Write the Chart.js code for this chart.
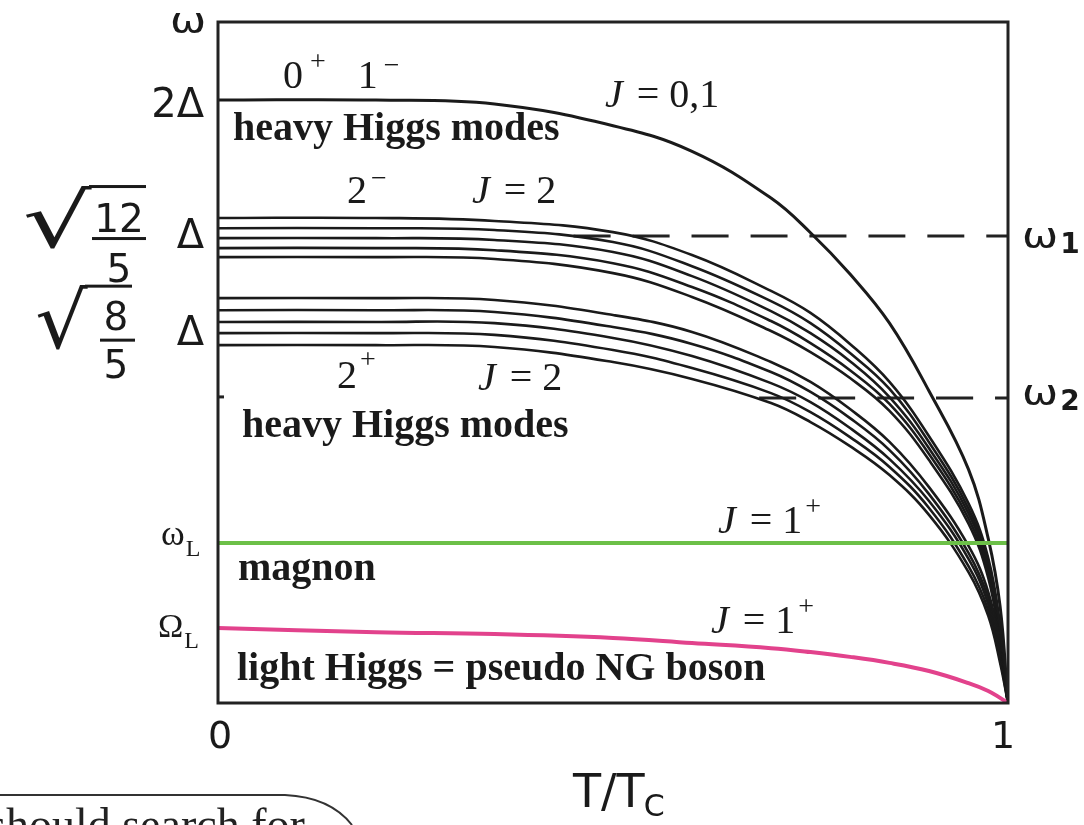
<!DOCTYPE html>
<html>
<head>
<meta charset="utf-8">
<script src="https://cdn.jsdelivr.net/npm/chart.js@4.4.1/dist/chart.umd.min.js"></script>
<style>
  html, body { margin: 0; padding: 0; background: #fff; }
  #wrap { width: 1084px; height: 825px; }
</style>
</head>
<body>
<div id="wrap"><canvas id="grafico" width="1084" height="825"></canvas></div>
<script>
// === Dados: T/Tc no eixo x, energias em unidades de Δ ===
const temps = [0, 0.2, 0.35, 0.5, 0.6, 0.7, 0.75, 0.8, 0.85, 0.9, 0.95, 0.975, 0.99, 1];

// J = 0,1 (parte de 2Δ)
const modoJ01 = [2.000, 2.000, 1.987, 1.915, 1.830, 1.675, 1.560, 1.423, 1.260, 1.035, 0.775, 0.545, 0.320, 0];

// J = 2, ramo 2⁻ (em torno de √(12/5) Δ)
const menos1 = [1.609, 1.609, 1.599, 1.562, 1.486, 1.367, 1.294, 1.191, 1.065, 0.885, 0.662, 0.481, 0.259, 0];
const menos2 = [1.575, 1.575, 1.569, 1.529, 1.449, 1.333, 1.260, 1.161, 1.042, 0.865, 0.645, 0.464, 0.245, 0];
const menos3 = [1.542, 1.542, 1.536, 1.496, 1.416, 1.300, 1.227, 1.134, 1.015, 0.845, 0.629, 0.448, 0.232, 0];
const menos4 = [1.509, 1.509, 1.502, 1.459, 1.380, 1.267, 1.194, 1.104, 0.992, 0.826, 0.612, 0.431, 0.219, 0];
const menos5 = [1.479, 1.479, 1.473, 1.426, 1.347, 1.234, 1.164, 1.078, 0.969, 0.806, 0.595, 0.415, 0.202, 0];

// J = 2, ramo 2⁺ (em torno de √(8/5) Δ)
const mais1 = [1.343, 1.343, 1.337, 1.287, 1.231, 1.131, 1.065, 0.975, 0.866, 0.716, 0.521, 0.368, 0.189, 0];
const mais2 = [1.303, 1.303, 1.297, 1.247, 1.191, 1.098, 1.032, 0.945, 0.839, 0.693, 0.498, 0.348, 0.176, 0];
const mais3 = [1.264, 1.264, 1.260, 1.211, 1.151, 1.061, 0.998, 0.912, 0.809, 0.670, 0.478, 0.328, 0.163, 0];
const mais4 = [1.227, 1.227, 1.221, 1.171, 1.111, 1.028, 0.965, 0.882, 0.783, 0.647, 0.454, 0.308, 0.146, 0];
const mais5 = [1.187, 1.187, 1.181, 1.131, 1.075, 0.995, 0.932, 0.852, 0.756, 0.624, 0.434, 0.289, 0.133, 0];

// Higgs leve = pseudo bóson NG (J = 1⁺)
const higgsLeve = [0.249, 0.235, 0.229, 0.216, 0.199, 0.182, 0.169, 0.153, 0.133, 0.106, 0.066, 0.040, 0.017, 0];

// mágnon (J = 1⁺), constante
const magnonT = [0, 1];
const magnon = [0.531, 0.531];

// níveis tracejados ω1 e ω2
const omega1T = [0.45, 1];
const omega1 = [1.549, 1.549];
const omega2T = [0.685, 1];
const omega2 = [1.012, 1.012];

// níveis marcados no eixo vertical
const nivel2D = 2;
const nivel12 = 1.549;
const nivel8 = 1.265;
const nivelOmegaL = 0.531;
const nivelBigOmegaL = 0.249;
const yMax = 2.259;

// === Montagem dos datasets ===
const pontos = (xs, ys) => xs.map((x, i) => ({ x, y: ys[i] }));
const PRETO = "#1a1a1a";

function linha(xs, ys, cor, largura, extra) {
  return Object.assign({
    data: pontos(xs, ys),
    borderColor: cor,
    borderWidth: largura,
    pointRadius: 0,
    fill: false,
    tension: 0.4,
  }, extra || {});
}

// o primeiro dataset fica por cima
const datasets = [
  linha(magnonT, magnon, "rgb(108,192,72)", 4),
  linha(temps, higgsLeve, "rgb(226,66,140)", 4),
  linha(temps, modoJ01, PRETO, 3),
  ...[menos1, menos2, menos3, menos4, menos5].map(d => linha(temps, d, PRETO, 2.6)),
  ...[mais1, mais2, mais3, mais4, mais5].map(d => linha(temps, d, PRETO, 2.6)),
  linha(omega1T, omega1, "#222", 3, { borderDash: [37, 22] }),
  linha(omega2T, omega2, "#222", 3, { borderDash: [37, 22] }),
];

// === Fontes ===
const SERIF = '"Liberation Serif", "DejaVu Serif", serif';
const SANS = '"DejaVu Sans", "Liberation Sans", sans-serif';
const S40 = "40px " + SERIF;
const S28 = "28px " + SERIF;
const I40 = "italic 40px " + SERIF;
const B40 = "bold 40px " + SERIF;

// escreve pedaços de texto em sequência: [texto, fonte, dx, dy]
function escreve(ctx, partes, x, y) {
  for (const [t, f, dx = 0, dy = 0] of partes) {
    ctx.font = f;
    ctx.fillText(t, x + dx, y + dy);
    x += dx + ctx.measureText(t).width;
  }
  return x;
}

// ω sem serifa um pouco mais largo, como nos rótulos dos eixos
function omegaLargo(ctx, x, y, tam) {
  ctx.save();
  ctx.font = tam + "px " + SANS;
  ctx.translate(x, y);
  ctx.scale(1.2, 1);
  ctx.fillText("ω", 0, 0);
  const w = ctx.measureText("ω").width * 1.2;
  ctx.restore();
  return x + w;
}

// sinal de raiz com o glifo √ esticado até a caixa dada, e a barra por cima
function raiz(ctx, x0, y0, x1, y1, xBarra) {
  ctx.save();
  ctx.font = '100px "DejaVu Sans"';
  const m = ctx.measureText("√");
  const w = m.actualBoundingBoxLeft + m.actualBoundingBoxRight;
  const h = m.actualBoundingBoxAscent + m.actualBoundingBoxDescent;
  ctx.translate(x0, y0);
  ctx.scale((x1 - x0) / w, (y1 - y0) / h);
  ctx.fillText("√", m.actualBoundingBoxLeft, m.actualBoundingBoxAscent);
  ctx.restore();
  ctx.fillRect(x1 - 3, y0, xBarra - x1 + 3, 3);
}

function fracao(ctx, num, den, xc, yNum, yBarra, yDen, x0, x1) {
  ctx.save();
  ctx.textAlign = "center";
  ctx.font = "39px " + SANS;
  ctx.fillText(num, xc, yNum);
  ctx.fillText(den, xc, yDen);
  ctx.fillRect(x0, yBarra, x1 - x0, 3);
  ctx.restore();
}

// === Plugin: moldura, rótulos dos eixos e anotações ===
const rotulos = {
  id: "rotulos",
  afterDatasetsDraw(chart) {
    const ctx = chart.ctx;
    const a = chart.chartArea;
    const xs = chart.scales.x;
    const ys = chart.scales.y;
    const py = v => ys.getPixelForValue(v);
    ctx.save();
    ctx.fillStyle = PRETO;
    ctx.strokeStyle = "#222";
    ctx.textBaseline = "alphabetic";
    ctx.textAlign = "left";

    // moldura
    ctx.lineWidth = 3;
    ctx.strokeRect(a.left, a.top, a.right - a.left, a.bottom - a.top);
    // marquinha no eixo esquerdo em ω2
    ctx.beginPath();
    ctx.moveTo(a.left, py(omega2[0]) - 1);
    ctx.lineTo(a.left + 6, py(omega2[0]) - 1);
    ctx.stroke();

    // eixo vertical
    omegaLargo(ctx, 170, a.top + 11, 36);
    ctx.textAlign = "right";
    ctx.font = "40px " + SANS;
    ctx.fillText("2Δ", 204, py(nivel2D) + 17);
    ctx.fillText("Δ", 204, py(nivel12) + 12);
    ctx.fillText("Δ", 204, py(nivel8) + 23);
    ctx.textAlign = "left";

    let p = py(nivel12);
    raiz(ctx, 25, p - 51, 92, p + 13, 146);
    fracao(ctx, "12", "5", 119, p - 4, p + 1, p + 46, 92, 146);
    p = py(nivel8);
    raiz(ctx, 37, p - 37, 88, p + 29, 132);
    fracao(ctx, "8", "5", 116, p + 8, p + 17, p + 56, 100, 135);

    p = py(nivelOmegaL);
    escreve(ctx, [["ω", "36px " + SERIF], ["L", "24px " + SERIF, 1, 11]], 161, p + 2);
    p = py(nivelBigOmegaL);
    escreve(ctx, [["Ω", "34px " + SERIF], ["L", "24px " + SERIF, 1, 11]], 158, p + 9);

    // lado direito
    let x = omegaLargo(ctx, 1022, py(omega1[0]) + 12, 36);
    escreve(ctx, [["1", "bold 28px " + SANS, 2, 5]], x, py(omega1[0]) + 12);
    x = omegaLargo(ctx, 1022, py(omega2[0]) + 7, 36);
    escreve(ctx, [["2", "bold 28px " + SANS, 2, 5]], x, py(omega2[0]) + 7);

    // eixo horizontal
    ctx.textAlign = "center";
    ctx.font = "38px " + SANS;
    ctx.fillText("0", xs.getPixelForValue(0) + 2, 748);
    ctx.fillText("1", xs.getPixelForValue(1) - 5, 748);
    ctx.textAlign = "left";
    escreve(ctx, [["T/T", "46px " + SANS], ["C", "30px " + SANS, -1, 9]], 573, 807);

    // anotações das curvas
    escreve(ctx, [["0", S40], ["+", S28, 7, -18], ["1", S40, 32], ["−", S28, 6, -14]], 283, 88);
    escreve(ctx, [["J", I40], [" = 0,1", S40, 4]], 605, 107);
    ctx.font = B40;
    ctx.fillText("heavy Higgs modes", 233, 140);
    escreve(ctx, [["2", S40], ["−", S28, 4, -16]], 347, 203);
    escreve(ctx, [["J", I40], [" = 2", S40, 4]], 472, 203);
    escreve(ctx, [["2", S40], ["+", S28, 3, -20]], 337, 388);
    escreve(ctx, [["J", I40], [" = 2", S40, 4]], 478, 390);
    ctx.font = B40;
    ctx.fillText("heavy Higgs modes", 242, 437);
    escreve(ctx, [["J", I40], [" = 1", S40, 4], ["+", S28, 3, -18]], 718, 533);
    ctx.font = B40;
    ctx.fillText("magnon", 238, 580);
    escreve(ctx, [["J", I40], [" = 1", S40, 4], ["+", S28, 3, -18]], 711, 633);
    ctx.font = B40;
    ctx.fillText("light Higgs = pseudo NG boson", 237, 680);

    // caixa cortada no canto inferior esquerdo
    ctx.lineWidth = 2;
    ctx.strokeStyle = "#333";
    ctx.beginPath();
    ctx.moveTo(0, 795);
    ctx.lineTo(285, 795);
    ctx.quadraticCurveTo(330, 797, 352, 825);
    ctx.stroke();
    ctx.fillStyle = "#222";
    ctx.font = "46px " + SERIF;
    ctx.fillText("should search for", -12, 840);
    ctx.restore();
  },
};

new Chart(document.getElementById("grafico"), {
  type: "line",
  data: { datasets },
  options: {
    responsive: false,
    animation: false,
    devicePixelRatio: 1,
    layout: { padding: { left: 218, right: 76, top: 22, bottom: 122 } },
    plugins: { legend: { display: false }, tooltip: { enabled: false } },
    scales: {
      x: { type: "linear", display: false, min: 0, max: 1 },
      y: { display: false, min: 0, max: yMax },
    },
  },
  plugins: [rotulos],
});
</script>
</body>
</html>
